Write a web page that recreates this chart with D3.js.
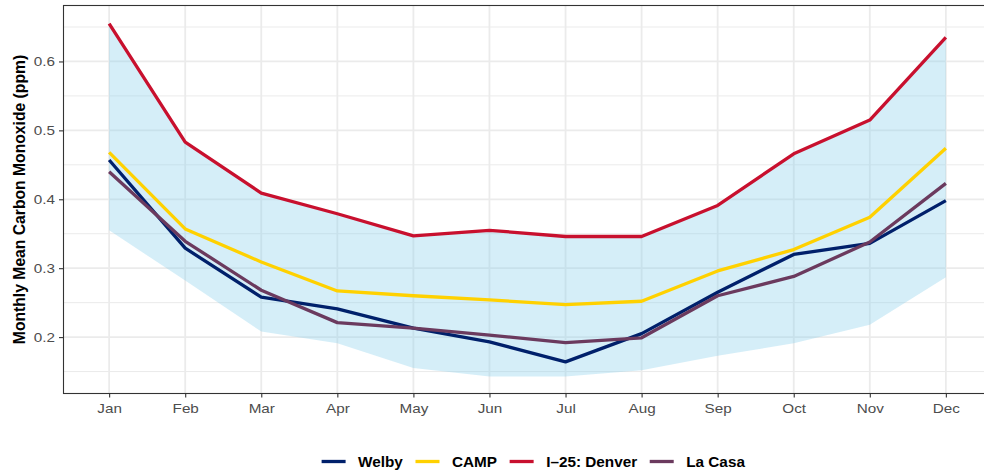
<!DOCTYPE html>
<html>
<head>
<meta charset="utf-8">
<script src="https://cdn.jsdelivr.net/npm/d3@7"></script>
<style>
  html, body { margin: 0; padding: 0; background: #fff; }
  svg { display: block; font-family: "Liberation Sans", Arial, Helvetica, sans-serif; }
</style>
</head>
<body>
<svg id="chart" width="984" height="475"></svg>
<script>
const months = ["Jan","Feb","Mar","Apr","May","Jun","Jul","Aug","Sep","Oct","Nov","Dec"];
const welby   = [0.457,0.329,0.258,0.241,0.213,0.193,0.164,0.205,0.265,0.320,0.336,0.398];
const camp    = [0.468,0.357,0.309,0.267,0.260,0.254,0.247,0.252,0.296,0.327,0.374,0.474];
const i25     = [0.655,0.483,0.409,0.379,0.347,0.355,0.346,0.346,0.391,0.466,0.515,0.635];
const laCasa  = [0.440,0.339,0.268,0.221,0.213,0.203,0.192,0.199,0.260,0.288,0.338,0.423];
const bandLow = [0.355,0.282,0.208,0.191,0.155,0.143,0.143,0.152,0.173,0.191,0.218,0.287];
const bandHigh= [0.655,0.483,0.409,0.379,0.347,0.355,0.346,0.346,0.391,0.466,0.515,0.635];
const seriesNames = ["Welby","CAMP","I\u201325: Denver","La Casa"];
const seriesColors = ["#00206b","#ffd100","#c8102e","#6b3a5e"];
const yTicks = [0.2,0.3,0.4,0.5,0.6];
const yMinor = [0.15,0.25,0.35,0.45,0.55,0.65];

const seriesValues = [welby, camp, i25, laCasa];

const svg = d3.select("#chart");
const L = 63.5, T = 5.5, B = 393.5, R = 991.5;

const x = d3.scalePoint().domain(months).range([L, R]).padding(0.6);
const y = d3.scaleLinear().domain([0.11815, 0.6812]).range([B, T]);

// grid
const g = svg.append("g");
g.selectAll(".minor").data(yMinor).join("line")
  .attr("x1", L).attr("x2", R).attr("y1", d => y(d)).attr("y2", d => y(d))
  .attr("stroke", "#ebebeb").attr("stroke-width", 1);
g.selectAll(".major").data(yTicks).join("line")
  .attr("x1", L).attr("x2", R).attr("y1", d => y(d)).attr("y2", d => y(d))
  .attr("stroke", "#ebebeb").attr("stroke-width", 1.8);
g.selectAll(".vmajor").data(months).join("line")
  .attr("x1", d => x(d)).attr("x2", d => x(d)).attr("y1", T).attr("y2", B)
  .attr("stroke", "#ebebeb").attr("stroke-width", 1.8);

// ribbon
const area = d3.area()
  .x((d, i) => x(months[i]))
  .y0((d, i) => y(bandLow[i]))
  .y1((d, i) => y(bandHigh[i]));
svg.append("path").datum(months).attr("d", area)
  .attr("fill", "#87ceeb").attr("fill-opacity", 0.35);

// lines
const line = d3.line().x((d, i) => x(months[i])).y(d => y(d));
seriesValues.forEach((vals, k) => {
  svg.append("path").datum(vals).attr("d", line)
    .attr("fill", "none").attr("stroke", seriesColors[k])
    .attr("stroke-width", 3.3).attr("stroke-linejoin", "round").attr("stroke-linecap", "butt");
});

// panel border
svg.append("rect").attr("x", L).attr("y", T).attr("width", R - L).attr("height", B - T)
  .attr("fill", "none").attr("stroke", "#333333").attr("stroke-width", 1.1);

// axes
const yAxis = d3.axisLeft(y).tickValues(yTicks).tickFormat(d3.format(".1f")).tickSize(4.5).tickPadding(4);
const ya = svg.append("g").attr("transform", `translate(${L},0)`).call(yAxis);
const xAxis = d3.axisBottom(x).tickSize(4).tickPadding(6);
const xa = svg.append("g").attr("transform", `translate(0,${B})`).call(xAxis);
[ya, xa].forEach(a => {
  a.select(".domain").remove();
  a.selectAll(".tick line").attr("stroke", "#333333").attr("stroke-width", 1.1);
  a.selectAll(".tick text").attr("fill", "#4d4d4d").style("font-size", "13.5px")
    .style("font-family", "'Liberation Sans', Arial, sans-serif")
    .each(function() {
      const n = this.getComputedTextLength();
      d3.select(this).attr("textLength", n * 1.13).attr("lengthAdjust", "spacingAndGlyphs");
    });
});

// y title
svg.append("text")
  .attr("transform", `translate(24.5,${(T + B) / 2}) rotate(-90)`)
  .attr("text-anchor", "middle")
  .style("font-size", "15.7px").style("font-weight", "bold").attr("fill", "#000")
  .text("Monthly Mean Carbon Monoxide (ppm)");

// legend
const leg = svg.append("g");
const keyW = 24, keyGap = 12.5, itemGap = 12.6;
let cx = 0;
seriesNames.forEach((name, k) => {
  const it = leg.append("g");
  it.append("line").attr("x1", 0).attr("x2", keyW).attr("y1", 0).attr("y2", 0)
    .attr("stroke", seriesColors[k]).attr("stroke-width", 3.3);
  const t = it.append("text").attr("x", keyW + keyGap).attr("y", 0).attr("dy", "0.36em")
    .style("font-size", "15.3px").style("font-weight", "bold").attr("fill", "#000").text(name);
  const w = keyW + keyGap + t.node().getComputedTextLength();
  it.attr("transform", `translate(${cx},461.5)`);
  cx += w + itemGap;
});
const total = cx - itemGap;
leg.attr("transform", `translate(${(320.5 + 746) / 2 - total / 2},0)`);
</script>
</body>
</html>
